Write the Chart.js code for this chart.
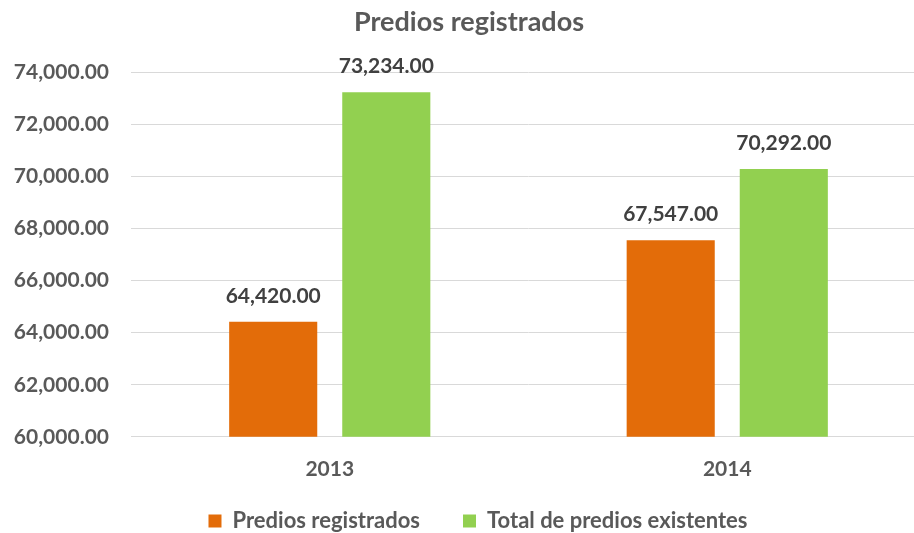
<!DOCTYPE html>
<html>
<head>
<meta charset="utf-8">
<script src="https://cdn.jsdelivr.net/npm/chart.js@4"></script>
<style>
  html, body { margin: 0; padding: 0; background: #fff; overflow: hidden; }
  #wrap { width: 940px; height: 533px; }
</style>
</head>
<body>
<div id="wrap"><canvas id="myChart"></canvas></div>
<script>
const years = ['2013', '2014'];
const registrados = [64420, 67547];
const existentes = [73234, 70292];
const seriesNames = ['Predios registrados', 'Total de predios existentes'];
const yTicks = [60000, 62000, 64000, 66000, 68000, 70000, 72000, 74000];

const fmt = v => v.toLocaleString('en-US', { minimumFractionDigits: 2, maximumFractionDigits: 2 });

// labels over the bars
const barLabels = {
  id: 'barLabels',
  afterDatasetsDraw(chart) {
    const ctx = chart.ctx;
    ctx.save();
    ctx.font = 'bold 21px Lato';
    ctx.fillStyle = '#404040';
    ctx.textAlign = 'center';
    ctx.textBaseline = 'middle';
    chart.data.datasets.forEach((ds, i) => {
      chart.getDatasetMeta(i).data.forEach((bar, j) => {
        ctx.fillText(fmt(ds.data[j]), bar.x, bar.y - 26);
      });
    });
    ctx.restore();
  }
};

// move the legend items a bit (right, and up closer to the axis)
const legendShift = {
  id: 'legendShift',
  afterInit(chart) {
    const leg = chart.legend;
    const draw = leg.draw.bind(leg);
    leg.draw = function () {
      chart.ctx.save();
      chart.ctx.translate(9, -27);
      draw();
      chart.ctx.restore();
    };
  }
};

const ctx = document.getElementById('myChart');
const myChart = new Chart(ctx, {
  type: 'bar',
  data: {
    labels: years,
    datasets: [{
      label: seriesNames[0],
      data: registrados,
      backgroundColor: '#E36C09',
      categoryPercentage: 0.569,
      barPercentage: 0.779
    }, {
      label: seriesNames[1],
      data: existentes,
      backgroundColor: '#92D050',
      categoryPercentage: 0.569,
      barPercentage: 0.779
    }]
  },
  plugins: [barLabels, legendShift],
  options: {
    responsive: true,
    maintainAspectRatio: false,
    animation: false,
    layout: { padding: { left: 12, right: 14, top: 6, bottom: -36 } },
    plugins: {
      title: {
        display: true,
        text: 'Predios registrados',
        color: '#595959',
        font: { family: 'Lato', size: 27, weight: 'bold' },
        padding: { top: 0, bottom: 34 }
      },
      legend: {
        position: 'bottom',
        labels: {
          color: '#595959',
          font: { family: 'Lato', size: 22, weight: 'bold' },
          boxWidth: 13,
          boxHeight: 13,
          padding: 43
        }
      },
      tooltip: { enabled: false }
    },
    scales: {
      x: {
        grid: { display: false },
        border: { color: '#d9d9d9', width: 1 },
        ticks: {
          color: '#595959',
          font: { family: 'Lato', size: 21, weight: 'bold' },
          padding: 12
        }
      },
      y: {
        min: yTicks[0],
        max: yTicks[yTicks.length - 1],
        afterFit(scale) { scale.width = 119; },
        afterBuildTicks(scale) { scale.ticks = yTicks.map(v => ({ value: v })); },
        grid: { color: '#d9d9d9', lineWidth: 1, drawTicks: false },
        border: { display: false },
        ticks: {
          color: '#595959',
          font: { family: 'Lato', size: 21, weight: 'bold' },
          padding: 22,
          callback: v => fmt(v)
        }
      }
    }
  }
});
</script>
</body>
</html>
